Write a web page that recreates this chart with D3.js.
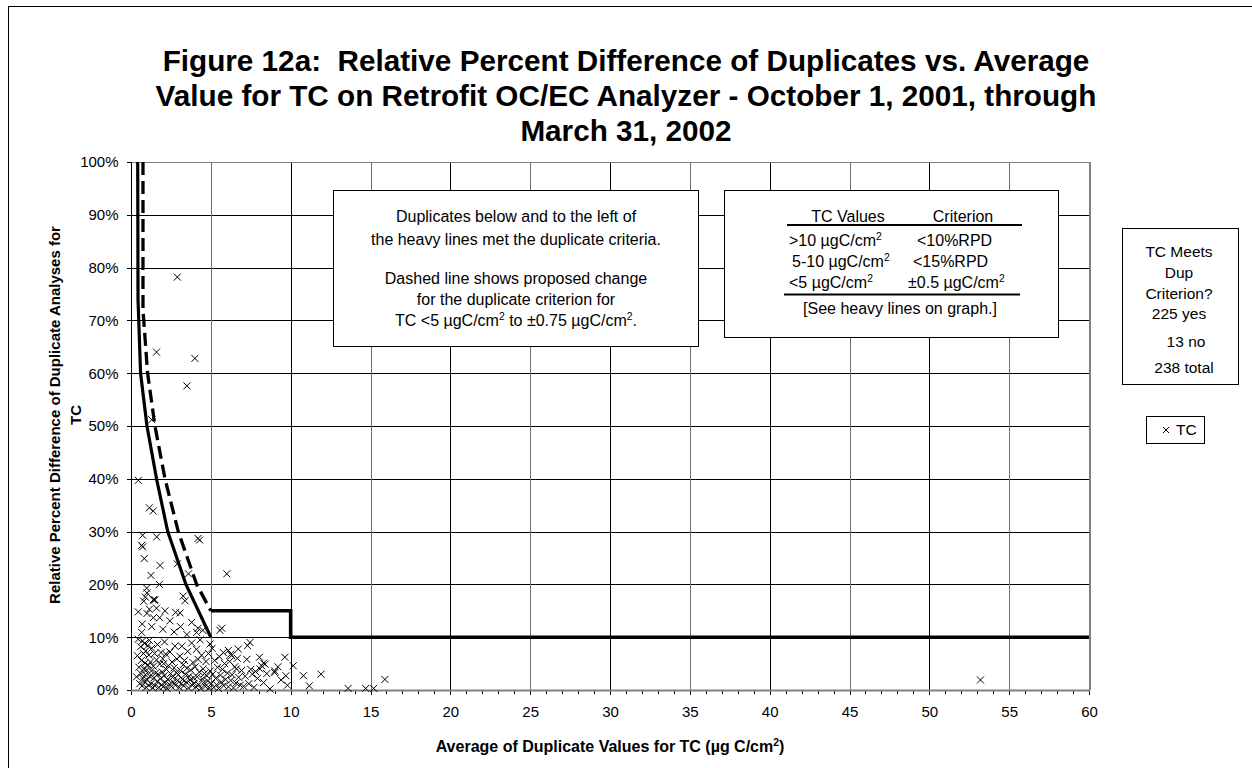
<!DOCTYPE html>
<html>
<head>
<meta charset="utf-8">
<script src="https://cdn.jsdelivr.net/npm/d3@7"></script>
<style>
  body { margin: 0; background: #fff; }
  svg { display: block; }
  text { font-family: "Liberation Sans", Arial, Helvetica, sans-serif; fill: #000; white-space: pre; }
</style>
</head>
<body>
<svg id="chart" width="1252" height="768"></svg>
<script>
// ---- data -------------------------------------------------------------
const titleLines = [
  "Figure 12a:  Relative Percent Difference of Duplicates vs. Average",
  "Value for TC on Retrofit OC/EC Analyzer - October 1, 2001, through",
  "March 31, 2002"
];
const xTicks = [0, 5, 10, 15, 20, 25, 30, 35, 40, 45, 50, 55, 60];
const xMinorTicks = [0,1,2,3,4,5,6,7,8,9,10,11,12,13,14,15,16,17,18,19,20,21,22,23,24,25,26,27,28,29,30,
  31,32,33,34,35,36,37,38,39,40,41,42,43,44,45,46,47,48,49,50,51,52,53,54,55,56,57,58,59,60];
const yTicks = [0, 10, 20, 30, 40, 50, 60, 70, 80, 90, 100];

// current criterion: +/-0.5 ugC/cm2 below 5, 15% for 5-10, 10% above 10
const criterionCurve = [[0.42,100],[0.44,74],[0.6,60],[1.0,50],[1.6,40],[2.3,30],[3.44,20],[5,10]];
const criterionSteps = [[5,15],[10,15],[10,10],[60,10]];
// proposed +/-0.75 ugC/cm2 criterion below 5
const proposedCurve = [[0.75,100],[0.75,72],[1.04,60],[1.5,50],[2.13,40],[2.96,30],[4.11,20],[5,15]];

// TC duplicate pairs: [average (ug C/cm2), relative percent difference (%)]
const tcDuplicates = [
  [2.9,78.2],[1.6,64.0],[4.0,62.8],[3.5,57.6],[1.3,51.2],[0.46,39.7],[1.15,34.5],[1.39,33.9],
  [0.73,29.3],[1.61,29.0],[0.67,27.4],[0.73,27.1],[4.2,28.7],[4.3,28.4],[0.83,24.9],[1.82,23.6],
  [2.9,23.9],[1.25,21.7],[3.6,22.0],[6.0,22.0],[1.78,20.0],[0.98,19.3],[0.9,17.6],[1.0,18.4],
  [0.8,16.8],[1.4,17.1],[1.5,17.1],[1.45,17.0],[3.27,17.8],[3.38,16.9],[0.46,14.8],[1.15,15.3],
  [2.13,15.0],[3.07,14.6],[2.44,13.1],[1.4,13.7],[3.8,12.8],[5.57,11.3],[5.68,11.7],[4.11,10.9],
  [0.67,10.9],[7.45,9.0],[7.3,8.4],[9.64,6.2],[10.16,4.6],[6.72,7.75],[6.1,7.5],[6.25,6.8],
  [6.3,6.5],[5.78,7.1],[4.95,8.7],[9.0,3.6],[8.18,4.6],[8.08,4.0],[7.6,3.0],[7.8,3.5],
  [6.6,4.0],[8.4,4.9],[10.8,2.7],[11.9,3.0],[15.9,2.0],[53.2,1.9],[9.7,2.7],[11.17,0.8],
  [13.6,0.3],[14.7,0.3],[15.2,0.3],[9.0,3.3],[9.8,0.9],[8.7,0.2],[8.3,5.1],
  [1.6,15.5],[2.8,14.7],[1.0,14.5],[1.8,13.7],[3.1,12.0],[4.2,11.7],[4.5,11.3],[0.7,12.5],
  [1.3,12.0],[2.0,11.5],[2.7,11.0],[3.5,10.5],
  [0.35,2.5],[0.4,6.5],[0.45,9.6],[0.5,4.3],[0.55,1.2],[0.6,8.2],[0.62,3.1],[0.65,5.6],
  [0.7,0.8],[0.72,9.3],[0.75,2.2],[0.78,6.9],[0.8,4.0],[0.82,1.6],[0.85,8.8],[0.88,5.1],
  [0.9,2.9],[0.92,7.4],[0.95,0.5],[0.98,3.8],
  [1.02,1.9],[1.05,8.4],[1.08,4.7],[1.1,0.9],[1.12,6.6],[1.15,9.4],[1.18,2.6],[1.22,5.3],
  [1.25,1.2],[1.28,3.6],[1.3,7.9],[1.36,0.4],[1.4,4.5],[1.44,2.3],[1.48,6.9],[1.5,0.8],
  [1.54,3.2],[1.6,5.7],[1.63,1.6],[1.66,8.6],[1.7,3.0],[1.74,0.5],[1.8,4.9],[1.84,2.1],
  [1.88,7.1],[1.92,1.0],[1.96,3.4],[1.99,5.9],
  [2.02,0.6],[2.05,5.0],[2.08,2.7],[2.1,9.1],[2.14,1.4],[2.18,6.8],[2.22,3.9],[2.26,0.3],
  [2.3,2.0],[2.34,4.6],[2.4,1.1],[2.44,7.2],[2.48,3.1],[2.53,0.7],[2.57,5.3],[2.6,2.4],
  [2.65,1.5],[2.7,4.2],[2.75,8.3],[2.78,0.9],[2.83,3.3],[2.87,5.9],[2.92,1.8],[2.97,2.9],
  [3.02,0.5],[3.06,6.4],[3.1,3.7],[3.14,1.2],[3.18,8.3],[3.22,2.0],[3.27,4.8],[3.3,0.8],
  [3.35,5.6],[3.4,3.0],[3.46,1.5],[3.5,4.1],[3.55,7.3],[3.6,0.4],[3.64,2.6],[3.7,1.9],
  [3.74,3.8],[3.8,8.9],[3.84,0.9],[3.88,5.2],[3.92,2.3],[3.97,1.3],
  [4.02,4.4],[4.06,0.6],[4.1,7.7],[4.15,2.5],[4.2,5.8],[4.24,1.0],[4.28,3.4],[4.33,9.5],
  [4.38,0.3],[4.42,6.6],[4.47,2.1],[4.52,4.0],[4.56,1.4],[4.6,3.1],[4.65,0.7],[4.7,5.4],
  [4.75,2.7],[4.8,1.7],[4.85,6.9],[4.9,0.4],[4.96,3.6],
  [5.03,1.2],[5.08,7.9],[5.12,3.0],[5.18,0.5],[5.24,5.6],[5.3,2.2],[5.36,1.0],[5.42,4.3],
  [5.48,0.3],[5.54,6.3],[5.6,2.8],[5.66,1.5],[5.72,3.9],[5.8,0.8],[5.86,5.0],[5.93,2.0],
  [6.04,3.2],[6.1,0.6],[6.18,5.4],[6.25,1.8],[6.33,2.9],[6.42,0.4],[6.5,4.4],[6.58,1.3],
  [6.66,6.0],[6.74,2.4],[6.84,0.9],[6.93,3.7],
  [7.05,0.7],[7.15,2.6],[7.25,5.8],[7.38,1.2],[7.5,3.9],[7.7,0.5],[7.92,2.2],[8.05,6.2],
  [8.3,1.4],[8.5,3.1],[9.2,4.4],[9.4,1.9]
];

const summaryLines = ["TC Meets", "Dup", "Criterion?", "225 yes", "13 no", "238 total"];

// ---- layout -----------------------------------------------------------
const svg = d3.select("#chart");
const plot = { left: 131, right: 1089, top: 162, bottom: 690 };
const x = d3.scaleLinear().domain([0, 60]).range([plot.left, plot.right]);
const y = d3.scaleLinear().domain([0, 100]).range([plot.bottom, plot.top]);

// writes a line of text made of plain runs and {sup: "..."} superscript runs
function richText(sel, parts) {
  let raised = false;
  parts.forEach(p => {
    if (typeof p === "object") {
      sel.append("tspan").attr("dy", -6).attr("font-size", "0.65em").text(p.sup);
      raised = true;
    } else {
      const t = sel.append("tspan").text(p);
      if (raised) { t.attr("dy", 6); raised = false; }
    }
  });
  return sel;
}

// outer chart frame
svg.append("rect").attr("x", 8.5).attr("y", 6.5).attr("width", 1400).attr("height", 900)
  .attr("fill", "none").attr("stroke", "#000").attr("stroke-width", 1);

// title
svg.append("g").selectAll("text").data(titleLines).join("text")
  .attr("x", 626).attr("y", (d, i) => 71 + i * 35)
  .attr("text-anchor", "middle").attr("font-size", 29.7).attr("font-weight", "bold")
  .text(d => d);

// gridlines
const grid = svg.append("g").attr("shape-rendering", "crispEdges");
grid.selectAll("line.h").data(yTicks.filter(v => v > 0 && v < 100)).join("line")
  .attr("x1", plot.left).attr("x2", plot.right)
  .attr("y1", d => Math.round(y(d)) + 0.5).attr("y2", d => Math.round(y(d)) + 0.5)
  .attr("stroke", "#000");
grid.selectAll("line.v").data(xTicks.filter(v => v > 0 && v < 60)).join("line")
  .attr("y1", plot.top).attr("y2", plot.bottom)
  .attr("x1", d => Math.round(x(d)) + 0.5).attr("x2", d => Math.round(x(d)) + 0.5)
  .attr("stroke", (d, i) => i % 2 === 0 ? "#707070" : "#000");

// plot frame (top / right grey)
grid.append("line").attr("x1", plot.left).attr("x2", plot.right + 1)
  .attr("y1", plot.top + 0.5).attr("y2", plot.top + 0.5).attr("stroke", "#808080").attr("stroke-width", 1.5);
grid.append("line").attr("x1", plot.right + 0.5).attr("x2", plot.right + 0.5)
  .attr("y1", plot.top).attr("y2", plot.bottom).attr("stroke", "#808080").attr("stroke-width", 2);

// axes
const yAxis = d3.axisLeft(y).tickValues(yTicks).tickFormat(d => d + "%").tickSize(5).tickPadding(8);
const gy = svg.append("g").attr("transform", `translate(${plot.left + 0.5},0)`).call(yAxis);
gy.select(".domain").remove();
gy.selectAll("text").attr("font-size", 15).attr("font-family", null);
gy.selectAll("line").attr("stroke", "#000").attr("shape-rendering", "crispEdges");
svg.append("line").attr("x1", plot.left + 0.5).attr("x2", plot.left + 0.5)
  .attr("y1", plot.top).attr("y2", plot.bottom + 1).attr("stroke", "#000").attr("shape-rendering", "crispEdges");

const xMinor = d3.axisBottom(x).tickValues(xMinorTicks).tickFormat("").tickSize(4);
const gxm = svg.append("g").attr("transform", `translate(0,${plot.bottom})`).call(xMinor);
gxm.select(".domain").remove();
gxm.selectAll("line").attr("stroke", "#000").attr("shape-rendering", "crispEdges");

const xAxis = d3.axisBottom(x).tickValues(xTicks).tickSize(5).tickPadding(11);
const gx = svg.append("g").attr("transform", `translate(0,${plot.bottom})`).call(xAxis);
gx.select(".domain").remove();
gx.selectAll("text").attr("font-size", 15).attr("font-family", null);
gx.selectAll("line").attr("stroke", "#000").attr("shape-rendering", "crispEdges");
svg.append("line").attr("x1", plot.left).attr("x2", plot.right + 1)
  .attr("y1", plot.bottom + 0.5).attr("y2", plot.bottom + 0.5)
  .attr("stroke", "#808080").attr("stroke-width", 2);

// axis titles
richText(svg.append("text").attr("x", 610).attr("y", 752).attr("text-anchor", "middle")
  .attr("font-size", 16).attr("font-weight", "bold"),
  ["Average of Duplicate Values for TC (µg C/cm", { sup: "2" }, ")"]);

const yt = svg.append("g").attr("transform", "translate(0,415) rotate(-90)");
yt.append("text").attr("x", 0).attr("y", 60).attr("text-anchor", "middle")
  .attr("font-size", 15).attr("font-weight", "bold")
  .text("Relative Percent Difference of Duplicate Analyses for");
yt.append("text").attr("x", 0).attr("y", 81).attr("text-anchor", "middle")
  .attr("font-size", 15).attr("font-weight", "bold").text("TC");

// criterion lines
const line = d3.line().x(d => x(d[0])).y(d => y(d[1]));
const marks = svg.append("g");
marks.append("path").attr("d", line(criterionCurve)).attr("fill", "none")
  .attr("stroke", "#000").attr("stroke-width", 3.2).attr("stroke-linejoin", "round");
marks.append("path").attr("d", line(criterionSteps)).attr("fill", "none")
  .attr("stroke", "#000").attr("stroke-width", 3.6).attr("stroke-linejoin", "miter");
marks.append("path").attr("d", line(proposedCurve)).attr("fill", "none")
  .attr("stroke", "#000").attr("stroke-width", 3.3).attr("stroke-dasharray", "13,6");

// TC duplicate points
const cross = "M-3.5,-3.5L3.5,3.5M-3.5,3.5L3.5,-3.5";
marks.append("g").selectAll("path").data(tcDuplicates).join("path")
  .attr("transform", d => `translate(${x(d[0])},${y(d[1])})`)
  .attr("d", cross).attr("stroke", "#000").attr("stroke-width", 1).attr("fill", "none");

// note box
const note = svg.append("g");
note.append("rect").attr("x", 333.5).attr("y", 190.5).attr("width", 365).attr("height", 156)
  .attr("fill", "#fff").attr("stroke", "#000");
const noteText = (yy, parts) =>
  richText(note.append("text").attr("x", 516).attr("y", yy).attr("text-anchor", "middle").attr("font-size", 16), parts);
noteText(222, ["Duplicates below and to the left of"]);
noteText(245, ["the heavy lines met the duplicate criteria."]);
noteText(284, ["Dashed line shows proposed change"]);
noteText(305, ["for the duplicate criterion for"]);
noteText(326, ["TC <5 µgC/cm", { sup: "2" }, " to ±0.75 µgC/cm", { sup: "2" }, "."]);

// criterion table box
const tbl = svg.append("g");
tbl.append("rect").attr("x", 724.5).attr("y", 190.5).attr("width", 334).attr("height", 147)
  .attr("fill", "#fff").attr("stroke", "#000");
const tText = (xx, yy, anchor, parts) =>
  richText(tbl.append("text").attr("x", xx).attr("y", yy).attr("text-anchor", anchor).attr("font-size", 16), parts);
tText(848, 222, "middle", ["TC Values"]);
tText(963, 222, "middle", ["Criterion"]);
tbl.append("line").attr("x1", 787).attr("x2", 1022).attr("y1", 225).attr("y2", 225).attr("stroke", "#000").attr("stroke-width", 2);
tText(789, 246, "start", [">10 µgC/cm", { sup: "2" }]);
tText(917, 246, "start", ["<10%RPD"]);
tText(792, 267, "start", ["5-10 µgC/cm", { sup: "2" }]);
tText(913, 267, "start", ["<15%RPD"]);
tText(789, 288, "start", ["<5 µgC/cm", { sup: "2" }]);
tText(908, 288, "start", ["±0.5 µgC/cm", { sup: "2" }]);
tbl.append("line").attr("x1", 784).attr("x2", 1020).attr("y1", 294.5).attr("y2", 294.5).attr("stroke", "#000").attr("stroke-width", 2);
tText(900, 314, "middle", ["[See heavy lines on graph.]"]);

// summary box
const sum = svg.append("g");
sum.append("rect").attr("x", 1122.5).attr("y", 228.5).attr("width", 116).attr("height", 156)
  .attr("fill", "#fff").attr("stroke", "#000");
const sumX = [1179, 1179, 1179, 1179, 1186, 1184];
const sumY = [257, 278, 299, 319, 347, 373];
sum.selectAll("text").data(summaryLines).join("text")
  .attr("x", (d, i) => sumX[i]).attr("y", (d, i) => sumY[i])
  .attr("text-anchor", "middle").attr("font-size", 15.5).text(d => d);

// legend
const leg = svg.append("g");
leg.append("rect").attr("x", 1146.5).attr("y", 416.5).attr("width", 58).attr("height", 27)
  .attr("fill", "#fff").attr("stroke", "#000");
leg.append("path").attr("transform", "translate(1166,430)").attr("d", "M-3,-3L3,3M-3,3L3,-3")
  .attr("stroke", "#000").attr("stroke-width", 1);
leg.append("text").attr("x", 1176).attr("y", 435).attr("font-size", 15.5).text("TC");
</script>
</body>
</html>
